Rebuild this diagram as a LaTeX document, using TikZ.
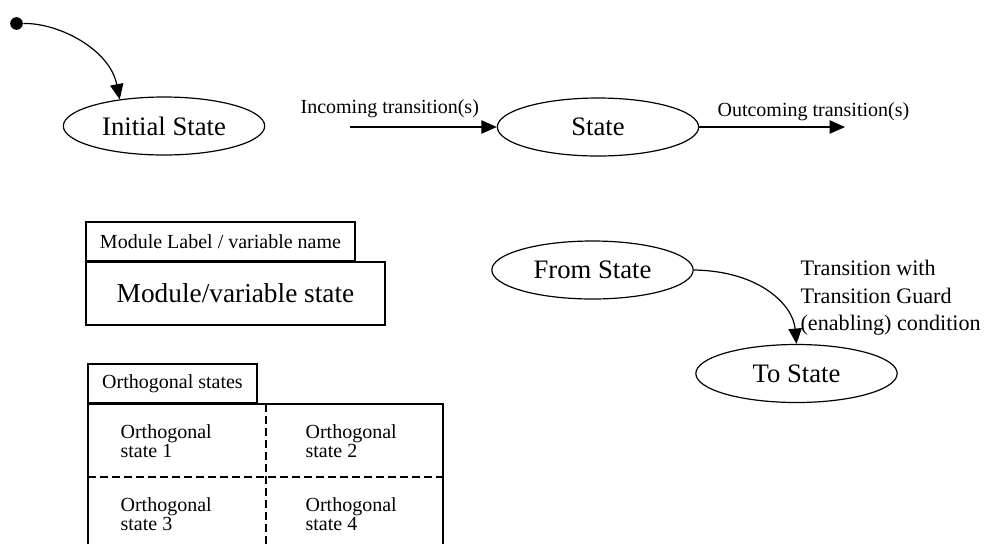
\documentclass[tikz,border=0pt]{standalone}
\usepackage{fontspec}
\setmainfont{Liberation Serif}
\usetikzlibrary{arrows.meta,shapes.geometric}

\begin{document}
\begin{tikzpicture}[x=0.75pt,y=-0.75pt,
  line width=0.9pt,
  state/.style={ellipse,draw,inner sep=0pt,minimum width=151pt,minimum height=43.5pt,
    font=\fontsize{20}{24}\selectfont},
  arr/.style={-{Triangle[length=11.5pt,width=10pt]}},
  lbl/.style={font=\fontsize{15}{18}\selectfont,inner sep=0pt},
  box/.style={draw,rectangle,inner sep=0pt},
  orthotext/.style={font=\fontsize{15}{14}\selectfont,align=left,inner sep=0pt,anchor=north west},
  divider/.style={dash pattern=on 6pt off 3pt}
]
\useasboundingbox (0,0) rectangle (1003,544);

% initial pseudo-state and the initial state
\node[circle,fill,inner sep=0pt,minimum size=9.5pt] (start) at (16.5,23.5) {};
\node[state] (init) at (164,126) {Initial State};
\draw[arr] (start) .. controls (60,23) and (110,50) .. (init.149);

% a state with incoming and outgoing transitions
\node[state] (state) at (598,127) {State};
\coordinate (inStart) at (350,127);
\coordinate (outEnd) at (845,127);
\draw[arr] (inStart) -- (state.west);
\draw[arr] (state.east) -- (outEnd);
\node[lbl,anchor=base west] (inLabel) at (300,113) {Incoming transition(s)};
\node[lbl,anchor=base west] (outLabel) at (717,116) {Outcoming transition(s)};

% module / variable box
\node[box,lbl,minimum width=201.75pt,minimum height=29.25pt] (modLabel) at (220.5,241.5) {Module Label / variable name};
\node[box,minimum width=224.25pt,minimum height=47.25pt,font=\fontsize{20.5}{24}\selectfont] (modState) at (235.5,293.5) {Module/variable state};

% guarded transition
\node[state] (from) at (592.5,270) {From State};
\node[state] (to) at (796.5,373.5) {To State};
\draw[arr] (from.east) .. controls (760,271) and (793,305) .. (to.north);
\node[font=\fontsize{16.6}{20.6}\selectfont,align=left,inner sep=0pt,anchor=north west] (guard) at (800,260)
  {Transition with\\Transition Guard\\(enabling) condition};

% orthogonal states
\node[box,lbl,minimum width=126.75pt,minimum height=29.25pt] (orthoLabel) at (172.5,383.5) {Orthogonal states};
\draw (88,544) |- (443,404) -- (443,544);
\draw[divider] (266,404) -- (266,544);
\draw[divider] (88,477) -- (443,477);
\node[orthotext] (o1) at (120,424) {Orthogonal\\state 1};
\node[orthotext] (o2) at (305,424) {Orthogonal\\state 2};
\node[orthotext] (o3) at (120,497) {Orthogonal\\state 3};
\node[orthotext] (o4) at (305,497) {Orthogonal\\state 4};
\end{tikzpicture}
\end{document}
